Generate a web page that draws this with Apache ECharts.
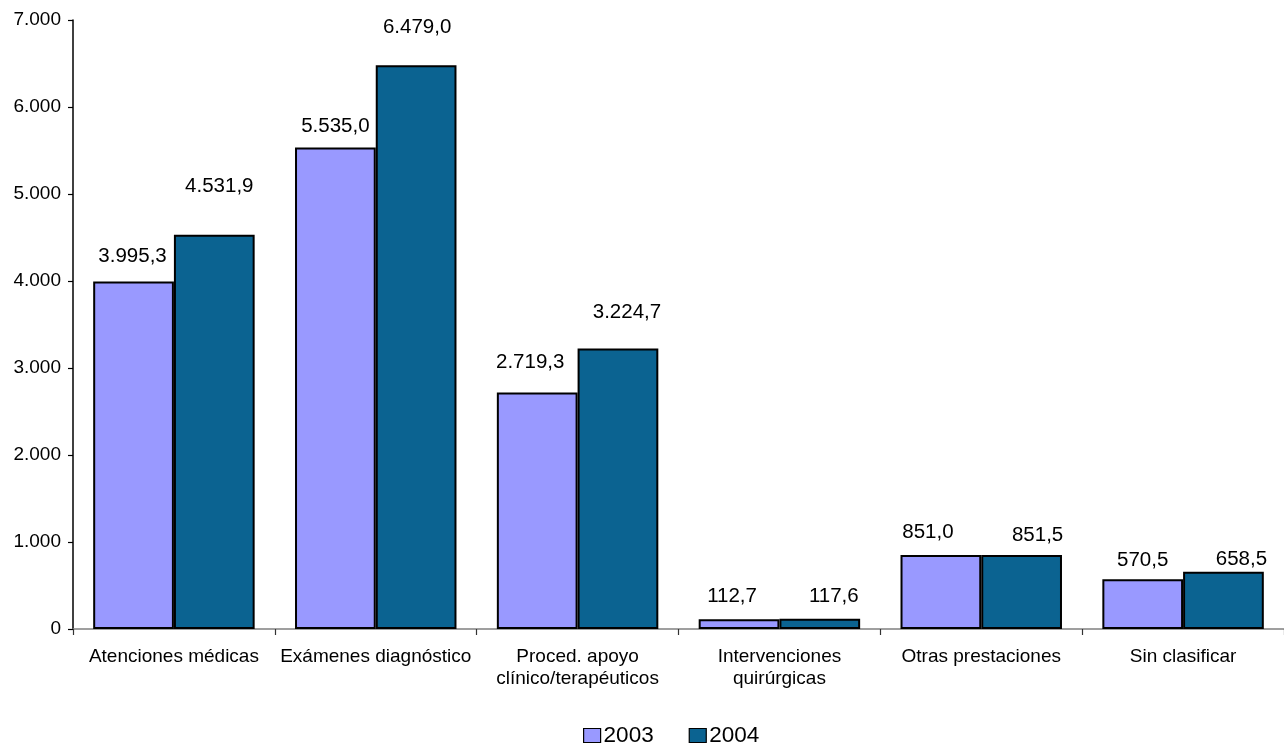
<!DOCTYPE html>
<html>
<head>
<meta charset="utf-8">
<script src="https://cdn.jsdelivr.net/npm/echarts@6/dist/echarts.min.js"></script>
<style>
html,body{margin:0;padding:0;background:#fff;}
#chart{width:1284px;height:744px;}
</style>
</head>
<body>
<div id="chart"></div>
<script>
const categories = ['Atenciones médicas', 'Exámenes diagnóstico', 'Proced. apoyo\nclínico/terapéuticos', 'Intervenciones\nquirúrgicas', 'Otras prestaciones', 'Sin clasificar'];
const seriesNames = ['2003', '2004'];
const values2003 = [3995.3, 5535.0, 2719.3, 112.7, 851.0, 570.5];
const values2004 = [4531.9, 6479.0, 3224.7, 117.6, 851.5, 658.5];
const yMin = 0, yMax = 7000, yStep = 1000;

// label nudges (style only, px) reproducing the original label placement
const nudge2003 = [[-1, -15], [0, -11], [-7, -20], [-7, -12], [-13, -12], [0, -9]];
const nudge2004 = [[5, -38], [1, -27], [9, -26], [14, -12], [16, -9], [18, -2]];

function fmt(v, dec) {
  const s = v.toFixed(dec);
  const parts = s.split('.');
  const intPart = parts[0].replace(/\B(?=(\d{3})+(?!\d))/g, '.');
  return parts.length > 1 ? intPart + ',' + parts[1] : intPart;
}

const FONT = '"Liberation Sans", Arial, sans-serif';

function buildData(vals, nudges) {
  return vals.map((v, i) => ({
    value: v,
    label: { offset: nudges[i] }
  }));
}

const chart = echarts.init(document.getElementById('chart'), null, { renderer: 'canvas' });
chart.setOption({
  animation: false,
  backgroundColor: '#ffffff',
  textStyle: { fontFamily: FONT },
  grid: { left: 73, right: -5, top: 20, bottom: 115 },
  legend: {
    left: 578, top: 719,
    itemWidth: 17, itemHeight: 14, itemGap: 35,
    icon: 'rect',
    itemStyle: { borderColor: '#000', borderWidth: 1.2 },
    textStyle: { fontFamily: FONT, fontSize: 22.5, color: '#000', padding: [0, 0, 0, -2] },
    data: seriesNames
  },
  xAxis: {
    type: 'category',
    data: categories,
    axisLine: { lineStyle: { color: '#808080', width: 1.5 } },
    axisTick: { show: true, length: 6, lineStyle: { color: '#333', width: 1.2 } },
    axisLabel: { fontFamily: FONT, fontSize: 19, color: '#000', margin: 17, lineHeight: 22, interval: 0 },
    splitLine: { show: false }
  },
  yAxis: {
    type: 'value',
    min: yMin, max: yMax, interval: yStep,
    axisLine: { show: true, lineStyle: { color: '#000', width: 1.5 } },
    axisTick: { show: true, length: 5, lineStyle: { color: '#000', width: 1.2 } },
    axisLabel: { fontFamily: FONT, fontSize: 19, color: '#000', margin: 12, formatter: v => fmt(v, 0) },
    splitLine: { show: false }
  },
  series: [
    {
      name: seriesNames[0], type: 'bar',
      data: buildData(values2003, nudge2003),
      barGap: '0%', barCategoryGap: '20%',
      itemStyle: { color: '#9999FF', borderColor: '#000', borderWidth: 2 },
      label: { show: true, position: 'top', distance: 0, fontFamily: FONT, fontSize: 20.5, color: '#000',
        formatter: p => fmt(p.value, 1) }
    },
    {
      name: seriesNames[1], type: 'bar',
      data: buildData(values2004, nudge2004),
      barGap: '0%', barCategoryGap: '20%',
      itemStyle: { color: '#0B6391', borderColor: '#000', borderWidth: 2 },
      label: { show: true, position: 'top', distance: 0, fontFamily: FONT, fontSize: 20.5, color: '#000',
        formatter: p => fmt(p.value, 1) }
    }
  ]
});
</script>
</body>
</html>
